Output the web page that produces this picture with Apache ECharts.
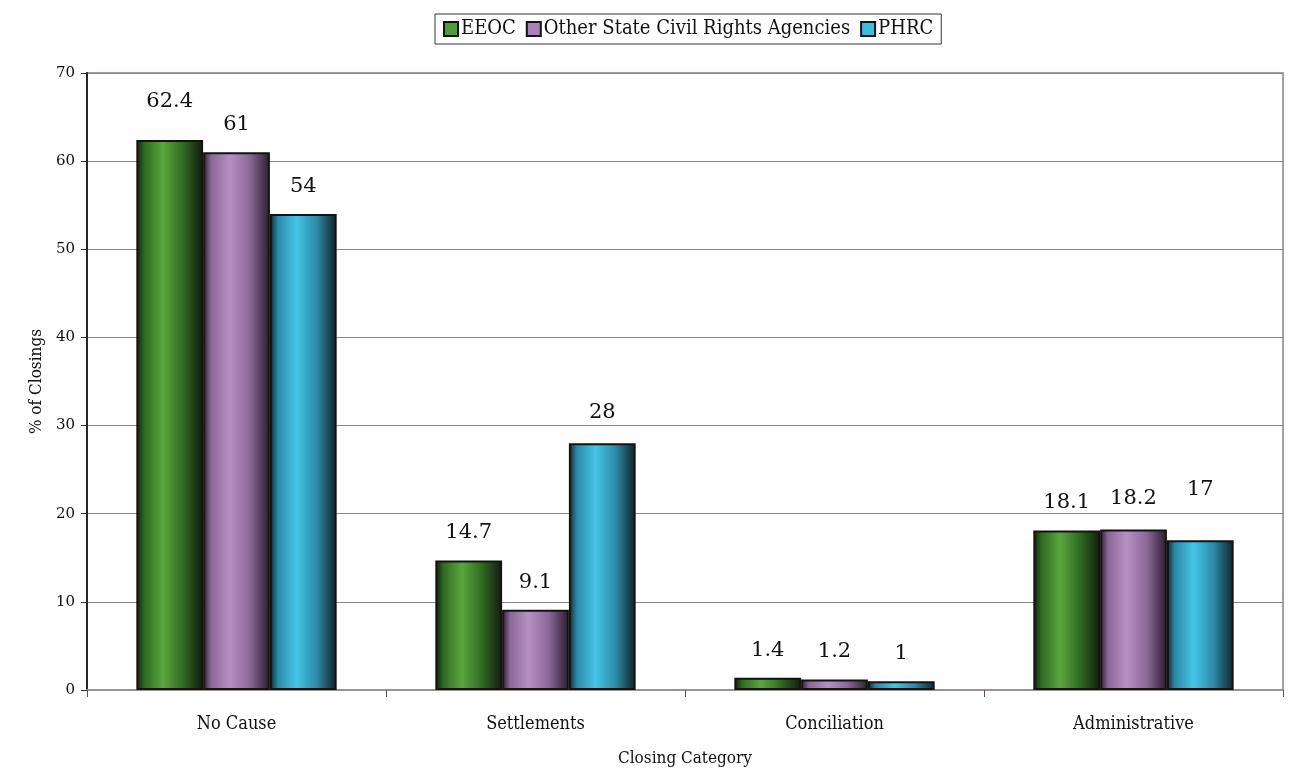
<!DOCTYPE html>
<html>
<head>
<meta charset="utf-8">
<script src="https://cdn.jsdelivr.net/npm/echarts@6/dist/echarts.min.js"></script>
<style>
  html, body { margin: 0; padding: 0; background: #fff; }
  #chart { width: 1294px; height: 772px; }
</style>
</head>
<body>
<div id="chart"></div>
<script>
// Closing categories and share of closings (%) per agency
const categories = ['No Cause', 'Settlements', 'Conciliation', 'Administrative'];
const eeoc = [62.4, 14.7, 1.4, 18.1];
const otherState = [61, 9.1, 1.2, 18.2];
const phrc = [54, 28, 1, 17];

const textFont = 'DejaVu Serif Condensed, Liberation Serif, serif';
const numFont = 'DejaVu Serif, Liberation Serif, serif';

// extra lift (px) for a few value labels that sit higher above their bars
const labelLift = { 'EEOC|0': 11, 'Other State Civil Rights Agencies|3': 4, 'PHRC|3': 23, 'PHRC|1': 3 };

// horizontal shading for cylinder-like bars: dark edges, bright centre
function shade(dark, mid, light) {
  return new echarts.graphic.LinearGradient(0, 0, 1, 0, [
    { offset: 0, color: dark },
    { offset: 0.12, color: mid },
    { offset: 0.4, color: light },
    { offset: 0.7, color: mid },
    { offset: 1, color: dark }
  ]);
}

function series(name, values, dark, mid, light) {
  return {
    name: name,
    type: 'bar',
    data: values.map((v, i) => {
      const lift = labelLift[name + '|' + i];
      return lift ? { value: v, label: { offset: [0, -lift] } } : v;
    }),
    barGap: '0%',
    barCategoryGap: '33%',
    itemStyle: {
      color: shade(dark, mid, light),
      borderColor: '#15120f',
      borderWidth: 2
    },
    label: {
      show: true,
      position: 'top',
      distance: 17,
      fontFamily: numFont,
      fontSize: 21,
      color: '#111'
    }
  };
}

const chart = echarts.init(document.getElementById('chart'));
chart.setOption({
  animation: false,
  legend: {
    top: 14,
    left: 435,
    icon: 'rect',
    itemWidth: 14,
    itemHeight: 14,
    itemGap: 10,
    padding: [5, 8, 5, 8],
    borderColor: '#333',
    borderWidth: 1,
    textStyle: { fontFamily: textFont, fontSize: 20, color: '#111', padding: [0, 0, 0, -2] },
    data: [
      { name: 'EEOC', itemStyle: { color: '#4f9a3a', borderColor: '#15120f', borderWidth: 2 } },
      { name: 'Other State Civil Rights Agencies', itemStyle: { color: '#a880bc', borderColor: '#15120f', borderWidth: 2 } },
      { name: 'PHRC', itemStyle: { color: '#3bbde0', borderColor: '#15120f', borderWidth: 2 } }
    ]
  },
  grid: { left: 87, right: 11, top: 73, bottom: 79, show: true, borderColor: '#a89e9a', borderWidth: 2 },
  xAxis: {
    type: 'category',
    data: categories,
    name: 'Closing Category',
    nameLocation: 'middle',
    nameGap: 60,
    nameTextStyle: { fontFamily: textFont, fontSize: 17, color: '#111' },
    axisLine: { lineStyle: { color: '#9c9290', width: 2 } },
    axisTick: { show: true, length: 7, lineStyle: { color: '#555' } },
    axisLabel: { fontFamily: textFont, fontSize: 18, color: '#111', margin: 25 }
  },
  yAxis: {
    type: 'value',
    min: 0,
    max: 70,
    interval: 10,
    name: '% of Closings',
    nameLocation: 'middle',
    nameGap: 42,
    nameTextStyle: { fontFamily: textFont, fontSize: 17, color: '#111' },
    axisLine: { show: true, lineStyle: { color: '#2a2520', width: 2 } },
    axisTick: { show: true, length: 6, lineStyle: { color: '#333' } },
    axisLabel: { fontFamily: numFont, fontSize: 15, color: '#111', margin: 12 },
    splitLine: { lineStyle: { color: '#8a8a8a', width: 1 } }
  },
  series: [
    series('EEOC', eeoc, '#141a10', '#2f6a22', '#5aa63e'),
    series('Other State Civil Rights Agencies', otherState, '#2a1c2e', '#8a6898', '#b690c4'),
    series('PHRC', phrc, '#10222a', '#2c8aa8', '#45c4e6')
  ]
});
</script>
</body>
</html>
